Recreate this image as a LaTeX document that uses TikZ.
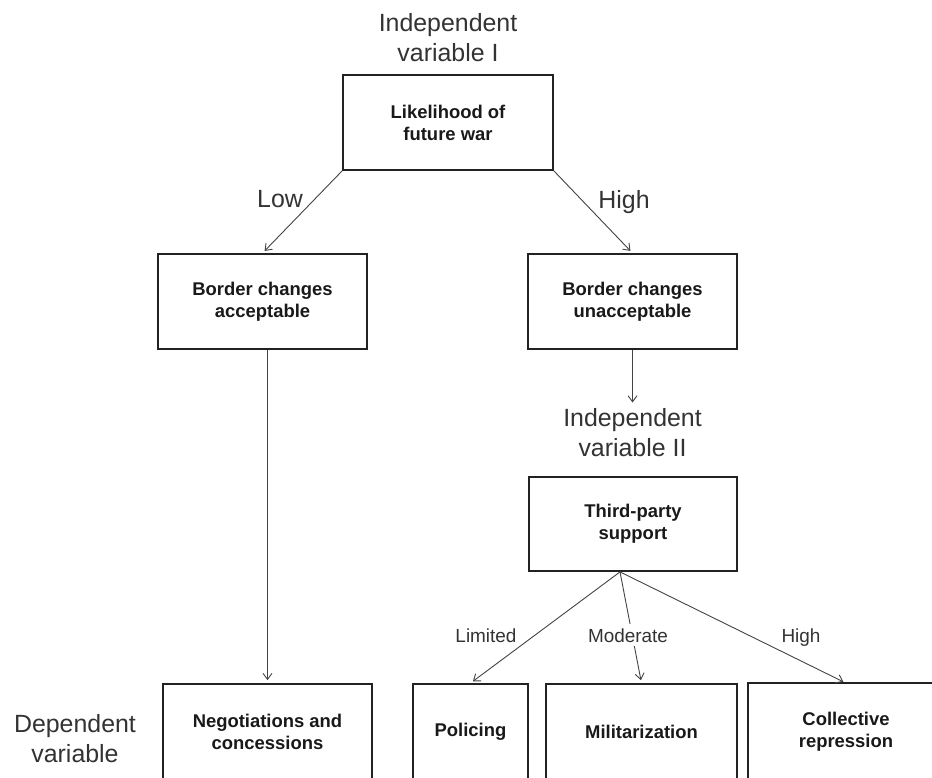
\documentclass[tikz,border=0pt]{standalone}
\usepackage{fontspec}
\setmainfont{Liberation Sans}
\usetikzlibrary{arrows.meta}
\definecolor{boxline}{HTML}{222222}
\definecolor{arrowcol}{HTML}{444444}
\definecolor{lbl}{HTML}{333333}
\tikzset{
  box/.style={draw=boxline, line width=1.8bp, rectangle, align=center, inner sep=0pt,
    font=\fontsize{18.5}{22}\selectfont\bfseries, text=black!90},
  boxedge/.style={draw=boxline, line width=1.8bp},
  conn/.style={draw=arrowcol, line width=0.9bp, -{Straight Barb[length=6bp,width=9bp]}, shorten >=3bp},
  biglbl/.style={font=\fontsize{25}{30}\selectfont, text=lbl, align=center, inner sep=0pt},
  smalllbl/.style={font=\fontsize{19}{22}\selectfont, text=lbl, inner sep=0pt},
}
\begin{document}
\begin{tikzpicture}[x=1bp,y=-1bp]
\useasboundingbox (0,0) rectangle (932,778);
\fill[white] (0,0) rectangle (932,778);
\clip (0,0) rectangle (932,778);

% boxes
\node[box, minimum width=210bp, minimum height=95bp] (top) at (448,122.5) {Likelihood of\\future war};
\node[box, minimum width=209bp, minimum height=95bp] (bl) at (262.5,301.5) {Border changes\\acceptable};
\node[box, minimum width=209bp, minimum height=95bp] (br) at (632.5,301.5) {Border changes\\unacceptable};
\node[box, minimum width=208bp, minimum height=94bp] (tp) at (633,524) {Third-party\\support};
\node[box, minimum width=209bp, minimum height=95bp] (neg) at (267.5,731.5) {Negotiations and\\concessions};
\node[box, minimum width=115bp, minimum height=95bp] (pol) at (470.5,731.5) {Policing};
\node[box, minimum width=191bp, minimum height=95bp] (mil) at (641.5,731.5) {Militarization};
\node[box, draw=none, minimum width=194bp, minimum height=95bp] (col) at (846,731.5) {Collective\\repression};
\draw[boxedge] (col.north west) rectangle ([xshift=40bp]col.south east);

% big labels
\node[biglbl, anchor=north] (ind1) at (448,13.5) {Independent\\variable I};
\node[biglbl, anchor=north] (ind2) at (632.5,408.5) {Independent\\variable II};
\node[biglbl, anchor=north] (dep) at (75,714.5) {Dependent\\variable};
\node[biglbl, anchor=base] (low) at (280,207) {Low};
\node[biglbl, anchor=base] (high) at (624,208) {High};

% fork point
\coordinate (fork) at ([xshift=-13bp]tp.south);

% connectors
\draw[conn] (top.south west) -- (bl.north);
\draw[conn] (top.south east) -- (br.north);
\draw[conn] (bl.south -| neg.north) -- (neg.north);
\draw[conn, shorten >=6bp] (br.south) -- (ind2.north);
\draw[conn] (fork) -- (pol.north);
\draw[conn] (fork) -- (mil.north);
\draw[conn] (fork) -- (col.north);

% small labels
\node[smalllbl, anchor=base] (limited) at (486,642) {Limited};
\node[smalllbl, anchor=base, fill=white, inner sep=4bp] (moderate) at (628,642) {Moderate};
\node[smalllbl, anchor=base] (high2) at (801,642) {High};
\end{tikzpicture}
\end{document}
